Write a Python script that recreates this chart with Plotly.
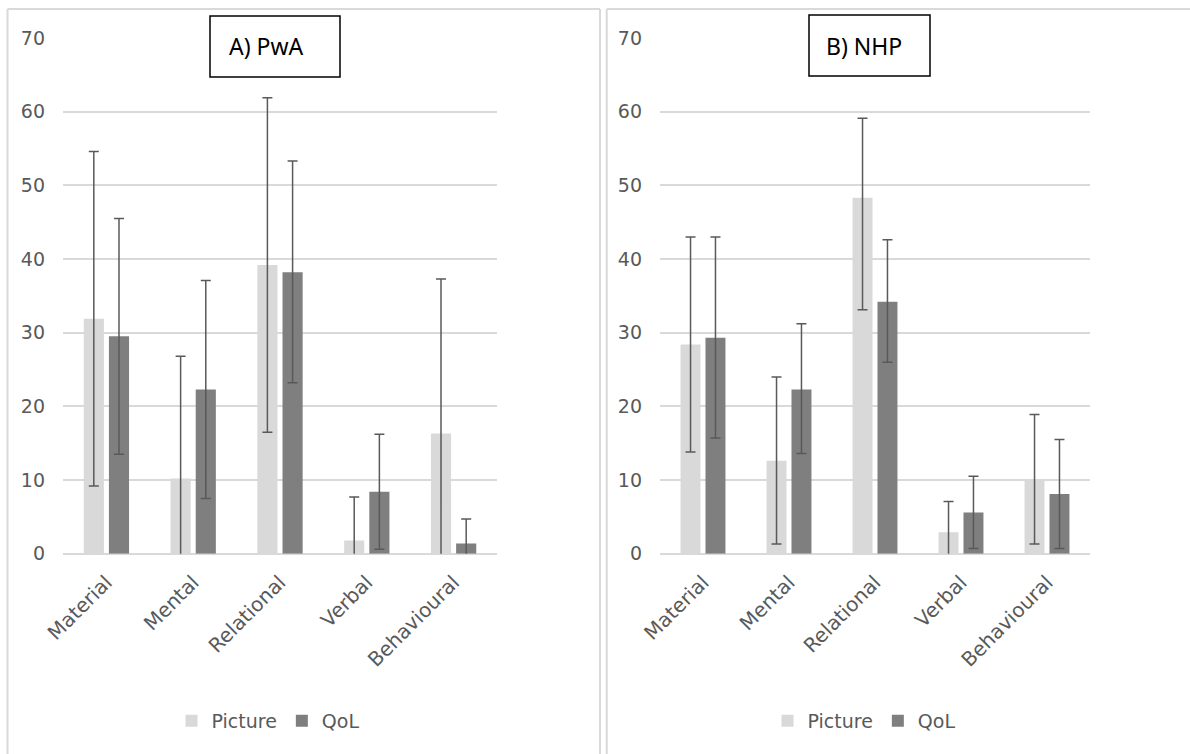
import plotly.graph_objects as go

categories = ["Material", "Mental", "Relational", "Verbal", "Behavioural"]
series_names = ["Picture", "QoL"]

# Panel A) PwA
pwa_picture = [31.9, 10.2, 39.2, 1.8, 16.3]
pwa_picture_plus = [22.7, 16.6, 22.7, 5.9, 21.0]
pwa_picture_minus = [22.7, 16.6, 22.7, 5.9, 21.0]
pwa_qol = [29.5, 22.3, 38.2, 8.4, 1.4]
pwa_qol_plus = [16.0, 14.8, 15.1, 7.8, 3.3]
pwa_qol_minus = [16.0, 14.8, 15.0, 7.8, 3.3]

# Panel B) NHP
nhp_picture = [28.4, 12.6, 48.3, 2.9, 10.1]
nhp_picture_plus = [14.6, 11.4, 10.8, 4.2, 8.8]
nhp_picture_minus = [14.6, 11.3, 15.2, 4.2, 8.8]
nhp_qol = [29.3, 22.3, 34.2, 5.6, 8.1]
nhp_qol_plus = [13.7, 8.9, 8.4, 4.9, 7.4]
nhp_qol_minus = [13.6, 8.7, 8.2, 4.9, 7.4]

panel_titles = ["A) PwA", "B) NHP"]
y_ticks = [0, 10, 20, 30, 40, 50, 60, 70]

COL_PIC = "#d9d9d9"
COL_QOL = "#7f7f7f"
ERR_COL = "#595959"
GRID = "#d9d9d9"
TXT = "#595959"
W, H = 1190, 754

def px(x):
    return x / W

def py(y):
    return 1 - y / H

fig = go.Figure()

panels = [
    (pwa_picture, pwa_picture_plus, pwa_picture_minus, pwa_qol, pwa_qol_plus, pwa_qol_minus),
    (nhp_picture, nhp_picture_plus, nhp_picture_minus, nhp_qol, nhp_qol_plus, nhp_qol_minus),
]
axes = [("x", "y", "legend"), ("x2", "y2", "legend2")]

for (pic, picp, picm, qol, qolp, qolm), (xa, ya, lg) in zip(panels, axes):
    fig.add_trace(go.Bar(
        x=categories, y=pic, name=series_names[0], marker=dict(color=COL_PIC, line=dict(width=0)),
        error_y=dict(type="data", symmetric=False, array=picp, arrayminus=picm,
                     color=ERR_COL, thickness=1.5, width=5),
        xaxis=xa, yaxis=ya, legend=lg))
    fig.add_trace(go.Bar(
        x=categories, y=qol, name=series_names[1], marker=dict(color=COL_QOL, line=dict(width=0)),
        error_y=dict(type="data", symmetric=False, array=qolp, arrayminus=qolm,
                     color=ERR_COL, thickness=1.5, width=5),
        xaxis=xa, yaxis=ya, legend=lg))

y_top, y_zero = 38, 553.7
ydom = [py(y_zero), py(y_top)]

xfont = dict(family="DejaVu Sans", size=20, color=TXT)
yfont = dict(family="DejaVu Sans", size=19, color=TXT)
common_x = dict(showgrid=False, showline=False, ticks="", tickangle=-45,
                tickfont=xfont, ticklabelstandoff=12, fixedrange=True, automargin=False)
common_y = dict(range=[0, 70], tickvals=y_ticks, showgrid=True, gridcolor=GRID, gridwidth=1.5,
                zeroline=True, zerolinecolor=GRID, zerolinewidth=2, showline=False,
                ticks="", tickfont=yfont, ticklabelstandoff=17, fixedrange=True,
                automargin=False)

legend_common = dict(orientation="h", xanchor="center", yanchor="middle",
                     font=dict(family="DejaVu Sans", size=19, color=TXT),
                     bgcolor="rgba(0,0,0,0)", itemwidth=30, tracegroupgap=0,
                     traceorder="normal")

fig.update_layout(
    width=W, height=H,
    margin=dict(l=0, r=0, t=0, b=0, autoexpand=False),
    paper_bgcolor="white", plot_bgcolor="white",
    barmode="group", bargap=0.42, bargroupgap=0.2,
    xaxis=dict(domain=[px(63), px(497)], anchor="y", **common_x),
    yaxis=dict(domain=ydom, anchor="x", **common_y),
    xaxis2=dict(domain=[px(660), px(1090)], anchor="y2", **common_x),
    yaxis2=dict(domain=ydom, anchor="x2", **common_y),
    legend=dict(x=px(268), y=py(721), **legend_common),
    legend2=dict(x=px(864), y=py(721), **legend_common),
    showlegend=True,
)

# panel frames
shapes = [
    dict(type="line", xref="paper", yref="paper", x0=px(7.5), x1=px(7.5), y0=py(9), y1=0,
         line=dict(color=GRID, width=2)),
    dict(type="line", xref="paper", yref="paper", x0=px(600), x1=px(600), y0=py(9), y1=0,
         line=dict(color=GRID, width=2)),
    dict(type="line", xref="paper", yref="paper", x0=px(7.5), x1=px(600), y0=py(9), y1=py(9),
         line=dict(color=GRID, width=2)),
    dict(type="line", xref="paper", yref="paper", x0=px(606.7), x1=px(606.7), y0=py(9), y1=0,
         line=dict(color=GRID, width=2)),
    dict(type="line", xref="paper", yref="paper", x0=px(606.7), x1=1, y0=py(9), y1=py(9),
         line=dict(color=GRID, width=2)),
    # title boxes
    dict(type="rect", xref="paper", yref="paper", x0=px(210), x1=px(340), y0=py(77), y1=py(16),
         line=dict(color="black", width=1.5), fillcolor="white"),
    dict(type="rect", xref="paper", yref="paper", x0=px(809), x1=px(930), y0=py(76), y1=py(15),
         line=dict(color="black", width=1.5), fillcolor="white"),
]
fig.update_layout(shapes=shapes)

title_font = dict(family="Noto Sans", size=23, color="black")
fig.add_annotation(text=panel_titles[0], xref="paper", yref="paper", x=px(266), y=py(46),
                   xanchor="center", yanchor="middle", showarrow=False, font=title_font)
fig.add_annotation(text=panel_titles[1], xref="paper", yref="paper", x=px(864), y=py(46),
                   xanchor="center", yanchor="middle", showarrow=False, font=title_font)

fig.write_html("out.html",
               config={"displayModeBar": False},
               post_script="document.body.style.margin='0';document.body.style.overflow='hidden';")
